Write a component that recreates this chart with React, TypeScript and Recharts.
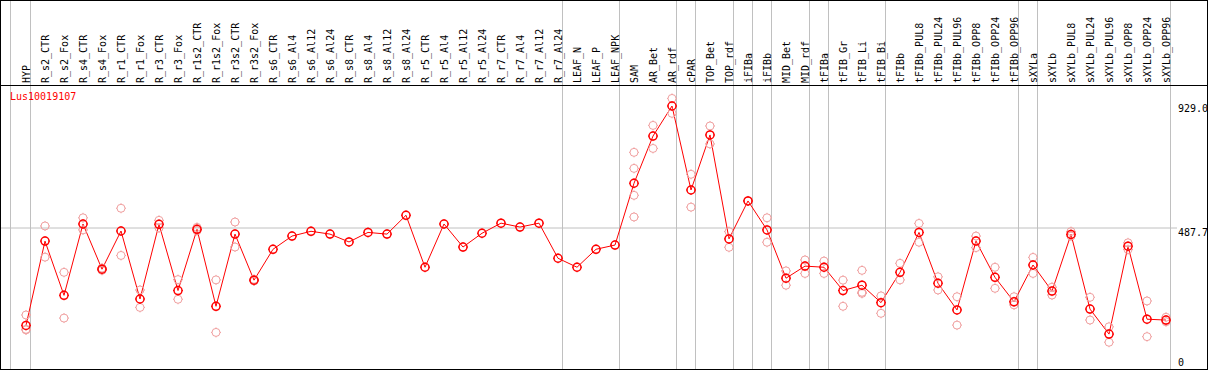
import { ComposedChart, Line, XAxis, YAxis, ReferenceLine } from "recharts";

// sample names, left to right
const categories = [
  "HYP", "R_s2_CTR", "R_s2_Fox", "R_s4_CTR", "R_s4_Fox", "R_r1_CTR", "R_r1_Fox",
  "R_r3_CTR", "R_r3_Fox", "R_r1s2_CTR", "R_r1s2_Fox", "R_r3s2_CTR", "R_r3s2_Fox",
  "R_s6_CTR", "R_s6_Al4", "R_s6_Al12", "R_s6_Al24", "R_s8_CTR", "R_s8_Al4",
  "R_s8_Al12", "R_s8_Al24", "R_r5_CTR", "R_r5_Al4", "R_r5_Al12", "R_r5_Al24",
  "R_r7_CTR", "R_r7_Al4", "R_r7_Al12", "R_r7_Al24", "LEAF_N", "LEAF_P", "LEAF_NPK",
  "SAM", "AR_Bet", "AR_rdf", "cPAR", "TOP_Bet", "TOP_rdf", "iFIBa", "iFIBb",
  "MID_Bet", "MID_rdf", "tFIBa", "tFIB_Gr", "tFIB_Li", "tFIB_Bi", "tFIBb",
  "tFIBb_PUL8", "tFIBb_PUL24", "tFIBb_PUL96", "tFIBb_OPP8", "tFIBb_OPP24",
  "tFIBb_OPP96", "sXYLa", "sXYLb", "sXYLb_PUL8", "sXYLb_PUL24", "sXYLb_PUL96",
  "sXYLb_OPP8", "sXYLb_OPP24", "sXYLb_OPP96",
];

const means = [
  141, 441, 248, 502, 341, 477, 235, 501, 265, 483, 209, 466, 302,
  412, 459, 476, 466, 438, 472, 466, 533, 348, 502, 420, 469, 505, 491, 505, 380,
  348, 412, 427,
  647, 815, 922, 623, 819, 449, 584, 481, 309, 352, 348, 265, 284, 222,
  330, 472, 291, 196, 441, 312, 225, 356, 263, 465, 199, 110, 423, 163, 160,
];

const N = null;
const rep1 = [
  178, 495, 330, 524, 345, 558, 267, 515, 304, 478, 303, 509, 299,
  N, N, N, N, N, N, N, N, N, N, N, N, N, N, N, N, N, N, N,
  757, 853, 949, 679, 851, 475, 584, 524, 335, 374, 370, 302, 337, 246,
  362, 504, 314, 243, 459, 348, 243, 383, 277, 475, 241, 136, 435, 228, 170,
];
const rep2 = [
  127, 384, 167, 481, 337, 390, 205, 488, 234, 490, 116, 420, 305,
  N, N, N, N, N, N, N, N, N, N, N, N, N, N, N, N, N, N, N,
  700, 771, 896, 562, 787, 419, N, 437, 284, 326, 326, 209, 259, 184,
  303, 437, 267, 142, 418, 273, 214, 326, 249, 459, 160, 81, 411, 101, 154,
];
const rep3 = [
  125, N, N, N, N, N, N, N, N, N, N, N, N,
  N, N, N, N, N, N, N, N, N, N, N, N, N, N, N, N, N, N, N,
  604, N, N, N, N, N, N, N, N, N, N, N, 255, N,
  N, N, N, N, N, N, N, N, N, N, N, N, N, N, N,
];
const rep4 = [
  N, N, N, N, N, N, N, N, N, N, N, N, N,
  N, N, N, N, N, N, N, N, N, N, N, N, N, N, N, N, N, N, N,
  527, N, N, N, N, N, N, N, N, N, N, N, N, N,
  N, N, N, N, N, N, N, N, N, N, N, N, N, N, N,
];

// last sample of each group (a separator follows it)
const groupEnds = [0, 28, 31, 34, 35, 37, 38, 39, 41, 42, 45, 52, 53, 60];

const yTicks = [0, 487.7, 929];
const yTickLabels = ["0", "487.7", "929.0"];
const geneId = "Lus10019107";

const data = categories.map((name, i) => ({
  idx: i,
  name,
  mean: means[i],
  r1: rep1[i],
  r2: rep2[i],
  r3: rep3[i],
  r4: rep4[i],
}));

const W = 1209;
const H = 370;
const STEP = 19;
const FIRST_X = 26;
const PLOT_L = 1;
const PLOT_R = 1207;
const PLOT_T = 1;
const PLOT_B = 369;
const ZERO_Y = 365;
const xMin = (PLOT_L - FIRST_X) / STEP;
const xMax = (PLOT_R - FIRST_X) / STEP;
const PX_PER_UNIT = 0.2809;
const yMin = -(PLOT_B - ZERO_Y) / PX_PER_UNIT;
const yMax = yMin + (PLOT_B - PLOT_T) / PX_PER_UNIT;

const FONT = "'DejaVu Sans Mono', monospace";
const RED = "#ff0000";
const PINK = "#f0a0a0";
const GRID = "#c0c0c0";

function Marker({ cx, cy, color, width }: any) {
  if (cx == null || cy == null || isNaN(cy)) return <g />;
  const r = 4;
  const d = `M${cx} ${cy - r - 1}v1M${cx} ${cy + r}v1M${cx - r - 1} ${cy}h1M${cx + r} ${cy}h1`;
  return (
    <g>
      <circle cx={cx} cy={cy} r={r} fill="none" stroke={color} strokeWidth={width} />
      <path d={d} stroke={color} strokeWidth={1} fill="none" />
    </g>
  );
}

function repDot(p: any) {
  if (p.value == null) return <g key={p.key} />;
  return <Marker key={p.key} cx={p.cx} cy={p.cy} color={PINK} width={1} />;
}

function meanDot(p: any) {
  return <Marker key={p.key} cx={p.cx} cy={p.cy} color={RED} width={1.5} />;
}

function CategoryTick({ x, payload }: any) {
  const tx = x + 3.5;
  const ty = 83;
  return (
    <text
      x={tx}
      y={ty}
      transform={`rotate(-90 ${tx} ${ty})`}
      fontFamily={FONT}
      fontSize={10}
      fill="#000"
      textAnchor="start"
    >
      {categories[payload.value]}
    </text>
  );
}

function ValueTick({ y, payload }: any) {
  const i = yTicks.indexOf(payload.value);
  const top = Math.min(y + 1, 359);
  return (
    <text x={1178} y={top + 7} fontFamily={FONT} fontSize={10} fill="#000">
      {yTickLabels[i]}
    </text>
  );
}

export default function App() {
  const repKeys = ["r1", "r2", "r3", "r4"];
  const startX = (10.5 - FIRST_X) / STEP;
  const topVal = yMax + 2 / PX_PER_UNIT;
  return (
    <div style={{ position: "absolute", left: 0, top: 0, width: W, height: H, background: "#fff" }}>
      <ComposedChart
        width={W}
        height={H}
        data={data}
        margin={{ top: 0, right: W - PLOT_R - 1, bottom: H - PLOT_B, left: PLOT_L }}
      >
        <XAxis
          type="number"
          dataKey="idx"
          orientation="top"
          height={PLOT_T}
          domain={[xMin, xMax]}
          allowDataOverflow
          ticks={categories.map((_, i) => i)}
          interval={0}
          tick={<CategoryTick />}
          tickLine={false}
          axisLine={false}
        />
        <YAxis
          orientation="right"
          width={1}
          domain={[yMin, yMax]}
          allowDataOverflow
          ticks={yTicks}
          interval={0}
          tick={<ValueTick />}
          tickLine={false}
          axisLine={false}
        />
        <ReferenceLine
          segment={[
            { x: startX, y: topVal },
            { x: startX, y: yMin },
          ]}
          stroke={GRID}
          strokeWidth={1}
          ifOverflow="visible"
        />
        {groupEnds.map((g) => (
          <ReferenceLine
            key={g}
            segment={[
              { x: g + 4.5 / STEP, y: topVal },
              { x: g + 4.5 / STEP, y: yMin },
            ]}
            stroke={GRID}
            strokeWidth={1}
            ifOverflow="visible"
          />
        ))}
        <ReferenceLine
          segment={[
            { x: xMin, y: 487.7 },
            { x: (1177 - FIRST_X) / STEP, y: 487.7 },
          ]}
          stroke={GRID}
          strokeWidth={1}
          ifOverflow="visible"
        />
        {repKeys.map((k) => (
          <Line
            key={k}
            dataKey={k}
            stroke="none"
            dot={repDot}
            activeDot={false}
            isAnimationActive={false}
          />
        ))}
        <Line
          dataKey="mean"
          stroke={RED}
          strokeWidth={1}
          dot={meanDot}
          activeDot={false}
          isAnimationActive={false}
        />
      </ComposedChart>
      <div
        style={{
          position: "absolute",
          left: 0,
          top: 85,
          width: 1208,
          height: 1,
          background: "#000",
          pointerEvents: "none",
        }}
      />
      <div
        style={{
          position: "absolute",
          left: 0,
          top: 0,
          width: 1208,
          height: 370,
          boxSizing: "border-box",
          border: "1px solid #000",
          pointerEvents: "none",
        }}
      />
      <div
        style={{
          position: "absolute",
          left: 10,
          top: 91,
          fontFamily: FONT,
          fontSize: 10,
          lineHeight: "12px",
          color: RED,
          pointerEvents: "none",
        }}
      >
        {geneId}
      </div>
    </div>
  );
}
